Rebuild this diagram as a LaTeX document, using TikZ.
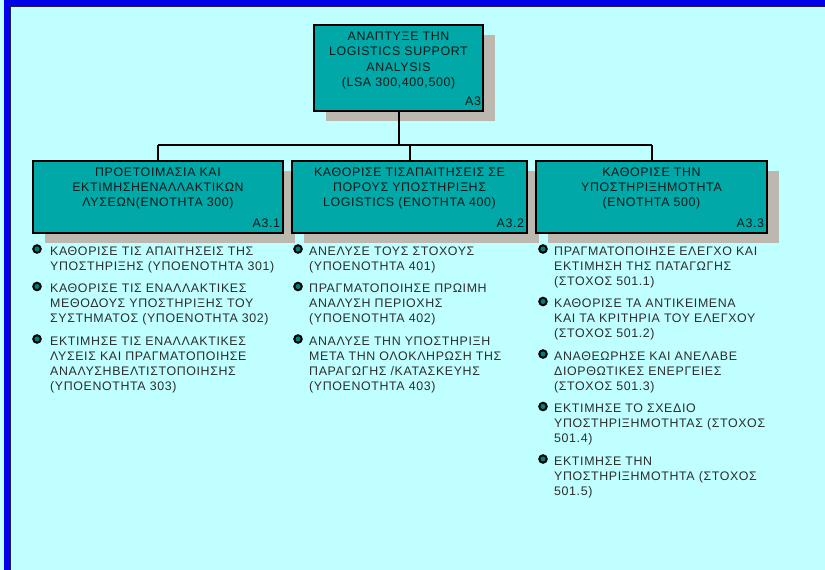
\documentclass[tikz,border=0pt]{standalone}
\usepackage{fontspec}
\setmainfont{Liberation Sans}[LetterSpace=5]
\usetikzlibrary{calc,shadows}

\definecolor{bgcyan}{RGB}{192,255,255}
\definecolor{frameblue}{RGB}{0,0,235}
\definecolor{frameedge}{RGB}{30,30,90}
\definecolor{boxteal}{RGB}{0,168,168}
\definecolor{shadowgray}{RGB}{188,184,176}
\definecolor{boxink}{RGB}{15,25,25}
\definecolor{itemink}{RGB}{45,45,45}

\tikzset{
  box/.style={draw=black, line width=2.4pt, fill=boxteal, inner sep=0pt,
    drop shadow={shadow xshift=12pt, shadow yshift=-10pt, fill=shadowgray, opacity=1}},
  boxtext/.style={font=\fontsize{12.4}{15}\selectfont, text=boxink, align=center,
    inner sep=0pt, anchor=north, execute at begin node=\strut},
  toptext/.style={boxtext, font=\fontsize{12.4}{15.5}\selectfont},
  tag/.style={font=\fontsize{12.4}{15}\selectfont, text=boxink, inner sep=0pt, anchor=base east},
  itemtext/.style={font=\fontsize{12.4}{15}\selectfont, text=itemink, align=left,
    inner sep=0pt, anchor=north west, execute at begin node=\strut},
  dot/.style={circle, draw=black, line width=2pt, fill=boxteal!75!black,
    minimum size=7.5pt, inner sep=0pt},
  conn/.style={draw=black, line width=2pt}
}

\begin{document}
\begin{tikzpicture}[x=1pt, y=-1pt]
  \useasboundingbox (0,0) rectangle (825,570);
  % page background and frame
  \fill[bgcyan] (0,0) rectangle (825,570);
  \fill[frameblue] (4,0) rectangle (825,6);
  \fill[frameblue] (4,0) rectangle (10,570);
  \fill[frameedge] (10,6) rectangle (825,7);
  \fill[frameedge] (10,6) rectangle (11,570);

  % top-level activity
  \node[box, minimum width=169pt, minimum height=86pt] (top) at (398.5,68) {};
  \node[toptext] (topt) at ($(top.north)+(0,7.5)$)
    {ΑΝΑΠΤΥΞΕ ΤΗΝ\\LOGISTICS SUPPORT\\ANALYSIS\\(LSA 300,400,500)};
  \node[tag] (topl) at ($(top.south east)+(-3,-6.6)$) {A3};

  % second-level activities
  \node[box, minimum width=250pt, minimum height=72pt] (b1) at (158,197) {};
  \node[boxtext] (b1t) at ($(b1.north)+(0,7.5)$)
    {ΠΡΟΕΤΟΙΜΑΣΙΑ ΚΑΙ\\ΕΚΤΙΜΗΣΗΕΝΑΛΛΑΚΤΙΚΩΝ\\ΛΥΣΕΩΝ(ΕΝΟΤΗΤΑ 300)};
  \node[tag] (b1l) at ($(b1.south east)+(-4,-6.6)$) {A3.1};

  \node[box, minimum width=235pt, minimum height=72pt] (b2) at (409.5,197) {};
  \node[boxtext] (b2t) at ($(b2.north)+(0,7.5)$)
    {ΚΑΘΟΡΙΣΕ ΤΙΣΑΠΑΙΤΗΣΕΙΣ ΣΕ\\ΠΟΡΟΥΣ ΥΠΟΣΤΗΡΙΞΗΣ\\LOGISTICS (ΕΝΟΤΗΤΑ 400)};
  \node[tag] (b2l) at ($(b2.south east)+(-4,-6.6)$) {A3.2};

  \node[box, minimum width=231pt, minimum height=72pt] (b3) at (651.5,197) {};
  \node[boxtext] (b3t) at ($(b3.north)+(0,7.5)$)
    {ΚΑΘΟΡΙΣΕ ΤΗΝ\\ΥΠΟΣΤΗΡΙΞΗΜΟΤΗΤΑ\\(ΕΝΟΤΗΤΑ 500)};
  \node[tag] (b3l) at ($(b3.south east)+(-4,-6.6)$) {A3.3};

  % tree connectors
  \coordinate (bus) at (0,145);
  \draw[conn] (top.south) -- (top.south |- bus);
  \draw[conn] (b1.north |- bus) -- (b3.north |- bus);
  \draw[conn] (b1.north |- bus) -- (b1.north);
  \draw[conn] (b2.north |- bus) -- (b2.north);
  \draw[conn] (b3.north |- bus) -- (b3.north);

  % tasks under A3.1
  \node[dot] (d11) at (37,249) {};
  \node[itemtext] (t11) at (50,246.5)
    {ΚΑΘΟΡΙΣΕ ΤΙΣ ΑΠΑΙΤΗΣΕΙΣ ΤΗΣ\\ΥΠΟΣΤΗΡΙΞΗΣ (ΥΠΟΕΝΟΤΗΤΑ 301)};
  \node[dot] (d12) at (37,286.5) {};
  \node[itemtext] (t12) at (50,284)
    {ΚΑΘΟΡΙΣΕ ΤΙΣ ΕΝΑΛΛΑΚΤΙΚΕΣ\\ΜΕΘΟΔΟΥΣ ΥΠΟΣΤΗΡΙΞΗΣ ΤΟΥ\\ΣΥΣΤΗΜΑΤΟΣ (ΥΠΟΕΝΟΤΗΤΑ 302)};
  \node[dot] (d13) at (37,339) {};
  \node[itemtext] (t13) at (50,336.5)
    {ΕΚΤΙΜΗΣΕ ΤΙΣ ΕΝΑΛΛΑΚΤΙΚΕΣ\\ΛΥΣΕΙΣ ΚΑΙ ΠΡΑΓΜΑΤΟΠΟΙΗΣΕ\\ΑΝΑΛΥΣΗΒΕΛΤΙΣΤΟΠΟΙΗΣΗΣ\\(ΥΠΟΕΝΟΤΗΤΑ 303)};

  % tasks under A3.2
  \node[dot] (d21) at (298,249) {};
  \node[itemtext] (t21) at (309,246.5)
    {ΑΝΕΛΥΣΕ ΤΟΥΣ ΣΤΟΧΟΥΣ\\(ΥΠΟΕΝΟΤΗΤΑ 401)};
  \node[dot] (d22) at (298,286.5) {};
  \node[itemtext] (t22) at (309,284)
    {ΠΡΑΓΜΑΤΟΠΟΙΗΣΕ ΠΡΩΙΜΗ\\ΑΝΑΛΥΣΗ ΠΕΡΙΟΧΗΣ\\(ΥΠΟΕΝΟΤΗΤΑ 402)};
  \node[dot] (d23) at (298,339) {};
  \node[itemtext] (t23) at (309,336.5)
    {ΑΝΑΛΥΣΕ ΤΗΝ ΥΠΟΣΤΗΡΙΞΗ\\ΜΕΤΑ ΤΗΝ ΟΛΟΚΛΗΡΩΣΗ ΤΗΣ\\ΠΑΡΑΓΩΓΗΣ /ΚΑΤΑΣΚΕΥΗΣ\\(ΥΠΟΕΝΟΤΗΤΑ 403)};

  % tasks under A3.3
  \node[dot] (d31) at (543,249) {};
  \node[itemtext] (t31) at (554,246.5)
    {ΠΡΑΓΜΑΤΟΠΟΙΗΣΕ ΕΛΕΓΧΟ ΚΑΙ\\ΕΚΤΙΜΗΣΗ ΤΗΣ ΠΑΤΑΓΩΓΗΣ\\(ΣΤΟΧΟΣ 501.1)};
  \node[dot] (d32) at (543,301.5) {};
  \node[itemtext] (t32) at (554,299)
    {ΚΑΘΟΡΙΣΕ ΤΑ ΑΝΤΙΚΕΙΜΕΝΑ\\ΚΑΙ ΤΑ ΚΡΙΤΗΡΙΑ ΤΟΥ ΕΛΕΓΧΟΥ\\(ΣΤΟΧΟΣ 501.2)};
  \node[dot] (d33) at (543,354) {};
  \node[itemtext] (t33) at (554,351.5)
    {ΑΝΑΘΕΩΡΗΣΕ ΚΑΙ ΑΝΕΛΑΒΕ\\ΔΙΟΡΘΩΤΙΚΕΣ ΕΝΕΡΓΕΙΕΣ\\(ΣΤΟΧΟΣ 501.3)};
  \node[dot] (d34) at (543,406.5) {};
  \node[itemtext] (t34) at (554,404)
    {ΕΚΤΙΜΗΣΕ ΤΟ ΣΧΕΔΙΟ\\ΥΠΟΣΤΗΡΙΞΗΜΟΤΗΤΑΣ (ΣΤΟΧΟΣ\\501.4)};
  \node[dot] (d35) at (543,459) {};
  \node[itemtext] (t35) at (554,456.5)
    {ΕΚΤΙΜΗΣΕ ΤΗΝ\\ΥΠΟΣΤΗΡΙΞΗΜΟΤΗΤΑ (ΣΤΟΧΟΣ\\501.5)};
\end{tikzpicture}
\end{document}
